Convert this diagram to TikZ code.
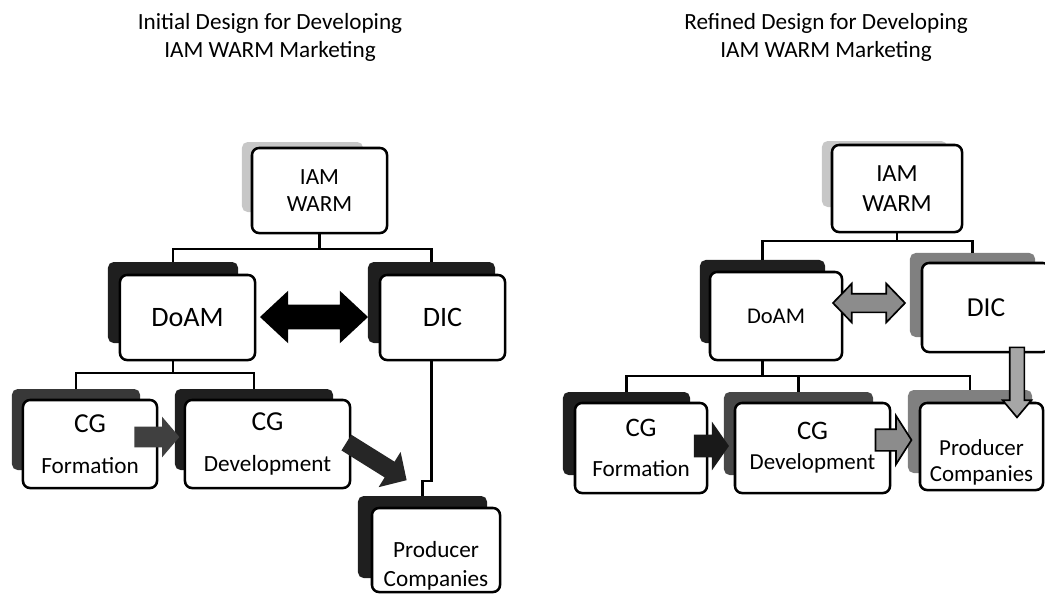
\documentclass[tikz,border=0pt]{standalone}
\usepackage{fontspec}
\setmainfont{Carlito}
\usetikzlibrary{shapes.arrows}

\begin{document}
\begin{tikzpicture}[x=0.025cm, y=-0.025cm,
  frontbox/.style={draw, line width=1.8pt, fill=white, rounded corners=5pt, align=center, inner sep=0pt},
  backbox/.style={fill=black!88, rounded corners=4pt, inner sep=0pt},
  greyback/.style={fill=black!50, rounded corners=4pt, inner sep=0pt},
  conn/.style={line width=1.6pt},
  blockarrow/.style={single arrow, inner xsep=0pt},
  dblarrow/.style={double arrow, inner xsep=0pt},
  outlined/.style={fill=black!45, draw=black, line width=1.2pt}]
\useasboundingbox (0,0) rectangle (1045,595);
\clip (0,0) rectangle (1045,595);

\node[align=center, font=\fontsize{16.5}{20}\selectfont] (titleL) at (270,37) {Initial Design for Developing\\IAM WARM Marketing};
\node[align=center, font=\fontsize{16.5}{20}\selectfont] (titleR) at (826,37) {Refined Design for Developing\\IAM WARM Marketing};

\node[fill=black!22, rounded corners=4pt, minimum width=3.025cm, minimum height=1.75cm] (iamL_back) at (302.5,177) {};
\node[frontbox, minimum width=3.375cm, minimum height=2.125cm, font=\fontsize{16.5}{19}\selectfont] (iamL) at (319.5,190.5) {IAM\\WARM};
\node[backbox, minimum width=3.25cm, minimum height=2.025cm] (doamL_back) at (173,302.5) {};
\node[frontbox, minimum width=3.375cm, minimum height=2.125cm, font=\fontsize{20}{24}\selectfont] (doamL) at (187.5,317.5) {DoAM};
\node[backbox, minimum width=3.175cm, minimum height=2.025cm] (dicL_back) at (431.5,302.5) {};
\node[frontbox, minimum width=3.125cm, minimum height=2.125cm, font=\fontsize{20}{24}\selectfont] (dicL) at (442.5,317.5) {DIC};
\node[backbox, fill=black!78, minimum width=3.2cm, minimum height=2.025cm] (formL_back) at (76,429.5) {};
\node[frontbox, minimum width=3.35cm, minimum height=2.2cm, font=\fontsize{16.5}{29}\selectfont] (formL) at (90,444) {{\fontsize{19.5}{29}\selectfont CG}\\Formation};
\node[backbox, minimum width=3.95cm, minimum height=2.025cm] (devL_back) at (254,429.5) {};
\node[frontbox, minimum width=4.125cm, minimum height=2.2cm, font=\fontsize{16.5}{29}\selectfont] (devL) at (267.5,444) {{\fontsize{19.5}{29}\selectfont CG}\\Development};
\node[backbox, minimum width=3.225cm, minimum height=2.05cm] (prodL_back) at (422.5,537) {};
\node[frontbox, minimum width=3.2cm, minimum height=2.1cm, font=\fontsize{16.5}{20}\selectfont] (prodL) at (436,550) {\rule{0pt}{34pt}Producer\\Companies};

\draw[conn] (iamL.south) -- ++(0,15) coordinate (iamL_bus);
\draw[conn] (doamL_back.north) |- (iamL_bus) -| (dicL_back.north);
\draw[conn] (doamL_back |- doamL.south) -- ++(0,12) coordinate (doamL_bus);
\draw[conn] (formL_back.north) |- (doamL_bus) -| (devL_back.north);
\draw[conn] (dicL_back |- dicL.south) -- ++(0,120) -| (prodL_back.north);

\node[dblarrow, fill=black, inner ysep=0.3cm, minimum height=2.7cm, double arrow head extend=0.35cm, double arrow tip angle=86] (doamL_dicL) at (314,317) {};
\node[blockarrow, fill=black!75, inner ysep=0.25cm, minimum height=1.125cm, single arrow head extend=0.25cm, single arrow tip angle=99] (formL_devL) at (152.5,437) {};
\node[blockarrow, fill=black!85, rotate=-32, inner ysep=0.225cm, minimum height=1.775cm, single arrow head extend=0.2875cm, single arrow tip angle=92] (devL_prodL) at (372.7,459) {};

\node[fill=black!22, rounded corners=4pt, minimum width=3.125cm, minimum height=1.65cm] (iamR_back) at (884.5,174) {};
\node[frontbox, minimum width=3.25cm, minimum height=2.175cm, font=\fontsize{17.5}{21}\selectfont] (iamR) at (897,188.5) {IAM\\WARM};
\node[backbox, minimum width=3.125cm, minimum height=2.075cm] (doamR_back) at (762.5,301.5) {};
\node[frontbox, minimum width=3.3cm, minimum height=2.2cm, font=\fontsize{16}{20}\selectfont] (doamR) at (776,316) {DoAM};
\node[greyback, minimum width=3.125cm, minimum height=2.1cm] (dicR_back) at (972.5,295) {};
\node[frontbox, minimum width=3.2cm, minimum height=2.225cm, font=\fontsize{19.5}{24}\selectfont] (dicR) at (986,307.5) {DIC};
\node[backbox, minimum width=3.175cm, minimum height=2.075cm] (formR_back) at (626.5,433.5) {};
\node[frontbox, minimum width=3.3cm, minimum height=2.25cm, font=\fontsize{16.5}{29}\selectfont] (formR) at (641,448) {{\fontsize{19}{29}\selectfont CG}\\Formation};
\node[backbox, fill=black!72, minimum width=3.725cm, minimum height=2.075cm] (devR_back) at (798.5,433.5) {};
\node[frontbox, minimum width=3.875cm, minimum height=2.25cm, font=\fontsize{16.3}{21.5}\selectfont] (devR) at (812.5,448) {{\fontsize{19}{21.5}\selectfont CG}\\Development};
\node[greyback, minimum width=3.1cm, minimum height=2.075cm] (prodR_back) at (970,431.5) {};
\node[frontbox, minimum width=3.075cm, minimum height=2.175cm, font=\fontsize{16.3}{18.5}\selectfont] (prodR) at (981.5,446.5) {\rule{0pt}{34pt}Producer\\Companies};

\draw[conn] (iamR.south) -- ++(0,8) coordinate (iamR_bus);
\draw[conn] (doamR_back.north) |- (iamR_bus) -| (dicR_back.north);
\draw[conn] (doamR_back |- doamR.south) -- ++(0,15) coordinate (doamR_bus);
\draw[conn] (formR_back.north) |- (doamR_bus) -| (prodR_back.north);
\draw[conn] (devR_back.north) -- (devR_back |- doamR_bus);

\node[dblarrow, outlined, inner ysep=0.2125cm, minimum height=1.8cm, double arrow head extend=0.25cm, double arrow tip angle=92] (doamR_dicR) at (869,303) {};
\node[blockarrow, fill=black!90, inner ysep=0.275cm, minimum height=0.875cm, single arrow head extend=0.325cm, single arrow tip angle=110] (formR_devR) at (707.5,446) {};
\node[blockarrow, outlined, inner ysep=0.25cm, minimum height=0.9cm, single arrow head extend=0.3375cm, single arrow tip angle=115] (devR_prodR) at (890,440) {};
\node[blockarrow, outlined, fill=black!35, rotate=-90, inner ysep=0.1625cm, minimum height=1.75cm, single arrow head extend=0.175cm, single arrow tip angle=80] (dicR_prodR) at (1017,378) {};

\end{tikzpicture}
\end{document}
